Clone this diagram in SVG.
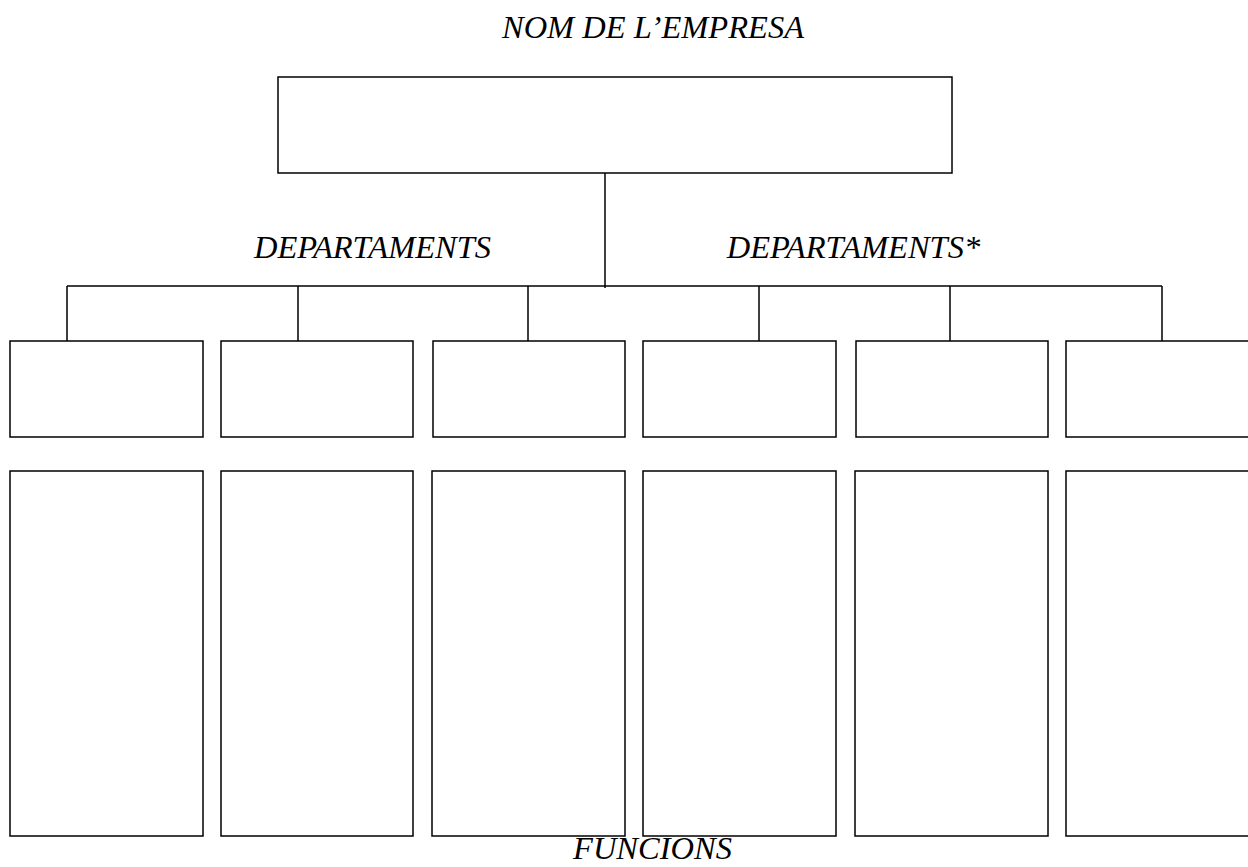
<svg xmlns="http://www.w3.org/2000/svg" width="1248" height="867" viewBox="0 0 1248 867">
<style>
.box{fill:#fff;stroke:#000;stroke-width:1.5}
.ln{stroke:#000;stroke-width:1.5;fill:none}
.t{font-family:"Liberation Serif","Times New Roman",serif;font-style:italic;font-size:32.5px;fill:#000}
</style>
<rect width="1248" height="867" fill="#fff"/>
<text class="t" x="653" y="38" text-anchor="middle">NOM DE L’EMPRESA</text>
<text class="t" x="372.5" y="258" text-anchor="middle">DEPARTAMENTS</text>
<text class="t" x="853.5" y="258" text-anchor="middle">DEPARTAMENTS*</text>
<text class="t" x="652.5" y="859" text-anchor="middle">FUNCIONS</text>
<g id="connectors">
<path class="ln" d="M605 173V288"/>
<path class="ln" d="M67 286H1162"/>
<path class="ln" d="M67 286V341M298 286V341M528 286V341M759 286V341M950 286V341M1162 286V341"/>
</g>
<g id="company"><rect class="box" x="278" y="77" width="674" height="96"/></g>
<g id="dept1"><rect class="box" x="10" y="341" width="193" height="96"/></g>
<g id="dept2"><rect class="box" x="221" y="341" width="192" height="96"/></g>
<g id="dept3"><rect class="box" x="433" y="341" width="192" height="96"/></g>
<g id="dept4"><rect class="box" x="643" y="341" width="193" height="96"/></g>
<g id="dept5"><rect class="box" x="856" y="341" width="192" height="96"/></g>
<g id="dept6"><rect class="box" x="1066" y="341" width="190" height="96"/></g>
<g id="func1"><rect class="box" x="10" y="471" width="193" height="365"/></g>
<g id="func2"><rect class="box" x="221" y="471" width="192" height="365"/></g>
<g id="func3"><rect class="box" x="432" y="471" width="193" height="365"/></g>
<g id="func4"><rect class="box" x="643" y="471" width="193" height="365"/></g>
<g id="func5"><rect class="box" x="855" y="471" width="193" height="365"/></g>
<g id="func6"><rect class="box" x="1066" y="471" width="190" height="365"/></g>
</svg>
